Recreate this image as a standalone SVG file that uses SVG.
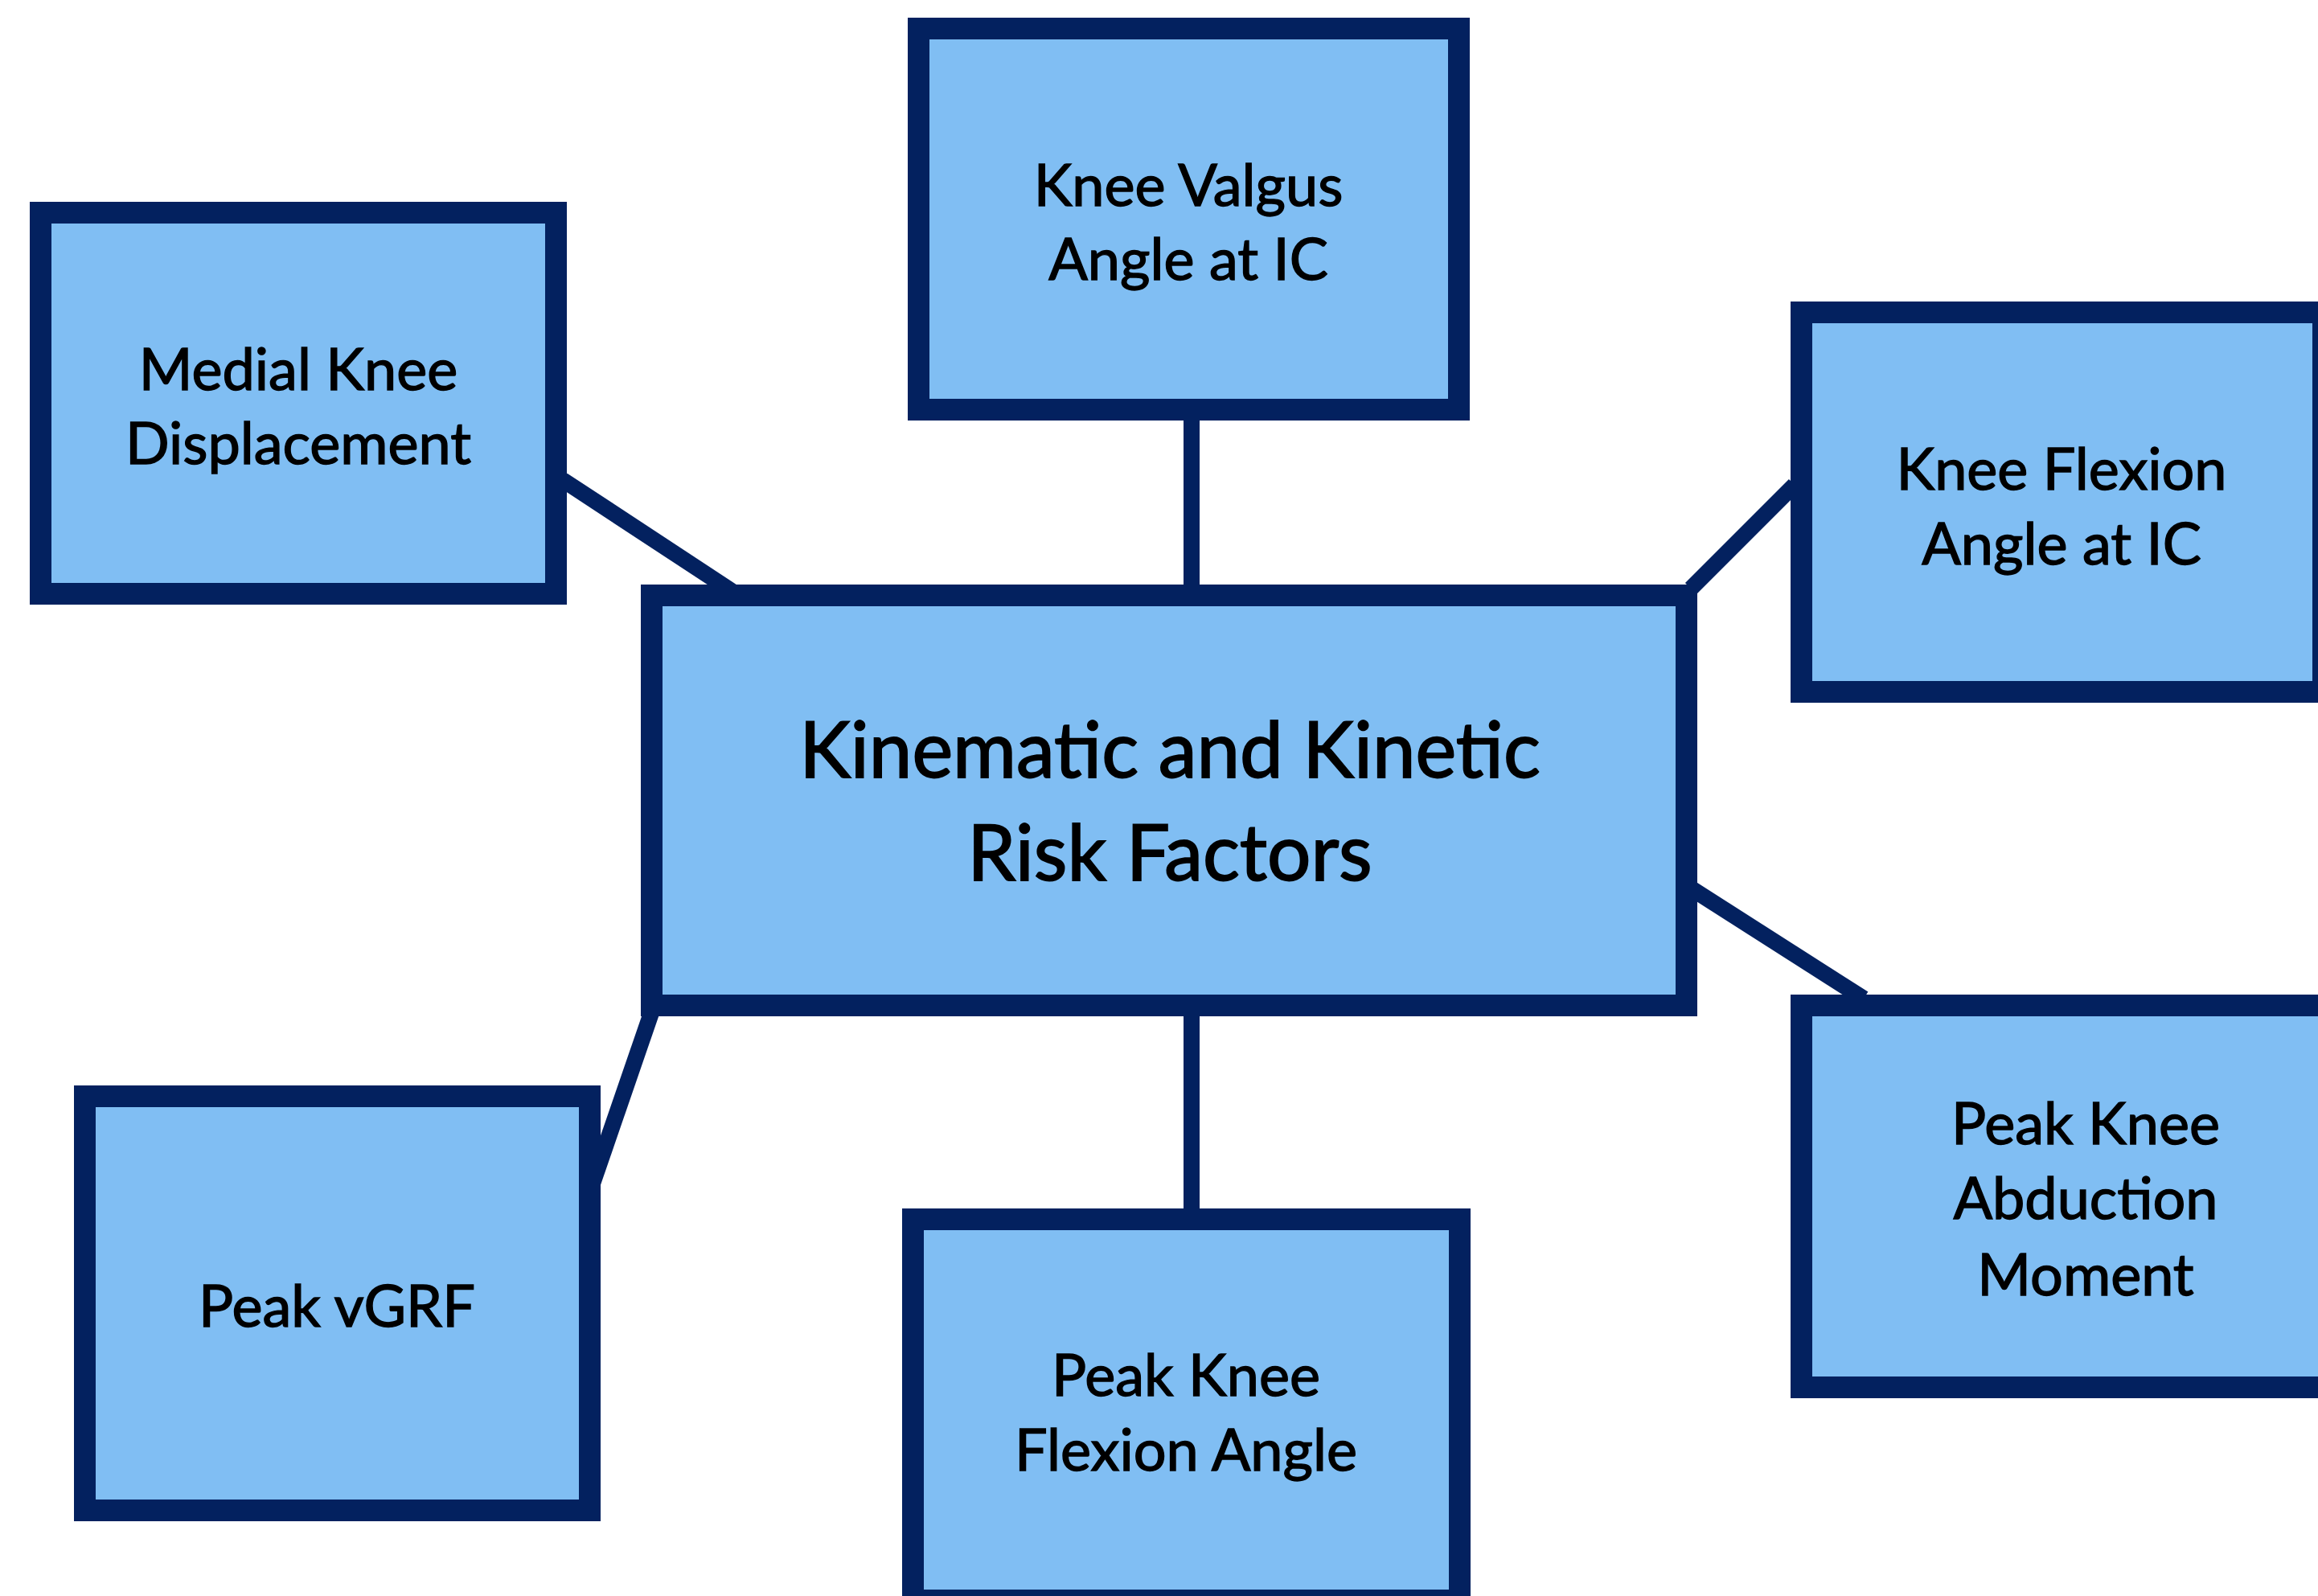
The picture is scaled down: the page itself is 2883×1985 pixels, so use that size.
<svg xmlns="http://www.w3.org/2000/svg" width="2883" height="1985" viewBox="0 0 2883 1985">
<style>
.box{fill:#80BEF3;stroke:#03215F;stroke-width:27}
.conn{stroke:#03215F;stroke-width:20;fill:none}
.t{font-family:Lato,"Open Sans",sans-serif;font-size:72px;fill:#000;stroke:#000;stroke-width:1.4;text-anchor:middle}
.tc{font-size:96px;stroke-width:1.8}
</style>
<rect width="2883" height="1985" fill="#fff"/>
<g id="connectors">
<line class="conn" x1="700" y1="597" x2="910" y2="735"/>
<line class="conn" x1="1482" y1="520" x2="1482" y2="730"/>
<line class="conn" x1="2103" y1="732" x2="2232" y2="603"/>
<line class="conn" x1="2105" y1="1106" x2="2318" y2="1242"/>
<line class="conn" x1="810" y1="1260" x2="736" y2="1475"/>
<line class="conn" x1="1482" y1="1260" x2="1482" y2="1506"/>
</g>
<g id="node-medial">
<rect class="box" x="50.5" y="264.5" width="641" height="474"/>
<text class="t" x="371" y="485">Medial Knee</text>
<text class="t" x="371" y="577">Displacement</text>
</g>
<g id="node-valgus">
<rect class="box" x="1142.5" y="35.5" width="672" height="474"/>
<text class="t" x="1478" y="256">Knee Valgus</text>
<text class="t" x="1478" y="348">Angle at IC</text>
</g>
<g id="node-central">
<rect class="box" x="810.5" y="740.5" width="1287" height="510"/>
<text class="t tc" x="1455" y="967">Kinematic and Kinetic</text>
<text class="t tc" x="1455" y="1095">Risk Factors</text>
</g>
<g id="node-kflex">
<rect class="box" x="2240.5" y="388.5" width="649" height="472"/>
<text class="t" x="2564" y="609">Knee Flexion</text>
<text class="t" x="2564" y="702">Angle at IC</text>
</g>
<g id="node-abduction">
<rect class="box" x="2240.5" y="1250.5" width="707" height="475"/>
<text class="t" x="2594" y="1423">Peak Knee</text>
<text class="t" x="2594" y="1516">Abduction</text>
<text class="t" x="2594" y="1611">Moment</text>
</g>
<g id="node-vgrf">
<rect class="box" x="105.5" y="1363.5" width="628" height="515"/>
<text class="t" x="419" y="1650">Peak vGRF</text>
</g>
<g id="node-pkfa">
<rect class="box" x="1135.5" y="1516.5" width="680" height="474"/>
<text class="t" x="1475" y="1736">Peak Knee</text>
<text class="t" x="1475" y="1829">Flexion Angle</text>
</g>
</svg>
